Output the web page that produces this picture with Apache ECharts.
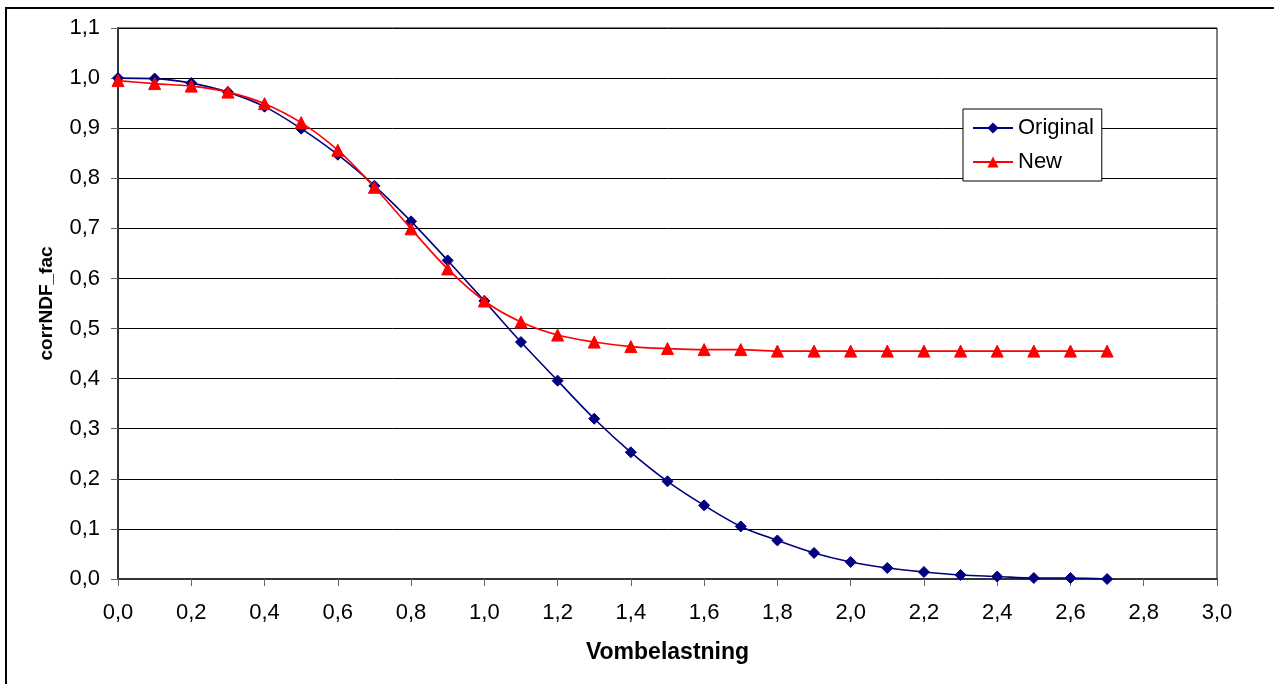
<!DOCTYPE html>
<html>
<head>
<meta charset="utf-8">
<style>
  html, body { margin: 0; padding: 0; background: #fff; }
  #chart { width: 1274px; height: 684px; }
</style>
<script src="https://cdn.jsdelivr.net/npm/echarts@6/dist/echarts.min.js"></script>
</head>
<body>
<div id="chart"></div>
<script>
// Vombelastning (x) values shared by both series
const vombelastning = [0.0, 0.1, 0.2, 0.3, 0.4, 0.5, 0.6, 0.7, 0.8, 0.9,
                       1.0, 1.1, 1.2, 1.3, 1.4, 1.5, 1.6, 1.7, 1.8, 1.9,
                       2.0, 2.1, 2.2, 2.3, 2.4, 2.5, 2.6, 2.7];

// corrNDF_fac, original curve
const originalFac = [1.000, 0.999, 0.990, 0.972, 0.943, 0.899, 0.847, 0.785, 0.714, 0.636,
                     0.555, 0.473, 0.396, 0.320, 0.253, 0.195, 0.147, 0.105, 0.077, 0.052,
                     0.034, 0.022, 0.014, 0.008, 0.005, 0.002, 0.002, 0.000];

// corrNDF_fac, new curve
const newFac = [0.995, 0.989, 0.984, 0.972, 0.949, 0.911, 0.856, 0.782, 0.699, 0.619,
                0.555, 0.513, 0.487, 0.473, 0.464, 0.460, 0.458, 0.458, 0.455, 0.455,
                0.455, 0.455, 0.455, 0.455, 0.455, 0.455, 0.455, 0.455];

const seriesNames = ['Original', 'New'];
const xAxisTitle = 'Vombelastning';
const yAxisTitle = 'corrNDF_fac';

const pairs = (xs, ys) => xs.map((x, i) => [x, ys[i]]);
const commaFmt = v => v.toFixed(1).replace('.', ',');

const FONT = 'Liberation Sans, Arial, sans-serif';

const chart = echarts.init(document.getElementById('chart'), null, { renderer: 'canvas' });

chart.setOption({
  animation: false,
  backgroundColor: '#fff',
  textStyle: { fontFamily: FONT },
  graphic: [{
    type: 'rect',
    silent: true,
    shape: { x: 6, y: 8, width: 1320, height: 720 },
    style: { fill: 'none', stroke: '#000', lineWidth: 2 }
  }],
  grid: {
    left: 118, top: 28, right: 57, bottom: 105,
    show: true, borderColor: '#000', borderWidth: 1, backgroundColor: '#fff'
  },
  legend: {
    orient: 'vertical',
    left: 963, top: 109,
    padding: [8, 8, 8, 9],
    itemGap: 12,
    itemWidth: 40, itemHeight: 14,
    backgroundColor: '#fff',
    borderColor: '#000', borderWidth: 1, borderRadius: 0,
    textStyle: { fontFamily: FONT, fontSize: 22, color: '#000' },
    data: seriesNames
  },
  xAxis: {
    type: 'value',
    min: 0, max: 3, interval: 0.2,
    name: xAxisTitle,
    nameLocation: 'middle',
    nameGap: 62,
    nameTextStyle: { fontFamily: FONT, fontSize: 23, fontWeight: 'bold', color: '#000' },
    axisLine: { show: true, onZero: false, lineStyle: { color: '#333', width: 2 } },
    axisTick: { show: true, inside: false, length: 7, lineStyle: { color: '#666', width: 1 } },
    axisLabel: { margin: 23, fontSize: 22, color: '#000', fontFamily: FONT, formatter: commaFmt },
    splitLine: { show: false }
  },
  yAxis: {
    type: 'value',
    min: 0, max: 1.1, interval: 0.1,
    name: yAxisTitle,
    nameLocation: 'middle',
    nameGap: 62,
    nameRotate: 90,
    nameTextStyle: { fontFamily: FONT, fontSize: 19, fontWeight: 'bold', color: '#000' },
    axisLine: { show: true, lineStyle: { color: '#333', width: 2 } },
    axisTick: { show: true, inside: false, length: 7, lineStyle: { color: '#666', width: 1 } },
    axisLabel: { margin: 18, fontSize: 22, color: '#000', fontFamily: FONT, formatter: commaFmt },
    splitLine: { show: true, lineStyle: { color: '#000', width: 1 } }
  },
  series: [
    {
      name: seriesNames[0],
      type: 'line',
      data: pairs(vombelastning, originalFac),
      smooth: 0.35,
      symbol: 'diamond',
      symbolSize: 11,
      lineStyle: { color: '#000080', width: 1.6 },
      itemStyle: { color: '#000080', borderColor: '#000080' },
      z: 3
    },
    {
      name: seriesNames[1],
      type: 'line',
      data: pairs(vombelastning, newFac),
      smooth: 0.35,
      symbol: 'triangle',
      symbolSize: 12,
      lineStyle: { color: '#ff0000', width: 1.6 },
      itemStyle: { color: '#ff0000', borderColor: '#ff0000' },
      z: 4
    }
  ]
});
</script>
</body>
</html>
